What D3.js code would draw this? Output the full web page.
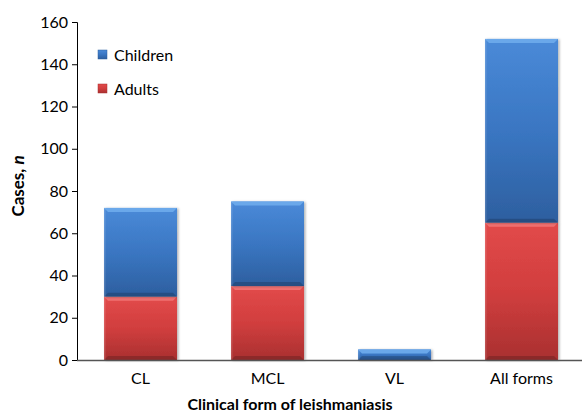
<!DOCTYPE html>
<html>
<head>
<meta charset="utf-8">
<script src="https://cdn.jsdelivr.net/npm/d3@7"></script>
<style>
  body { margin: 0; background: #fff; }
  text { font-family: Lato, "Open Sans", sans-serif; fill: #000; }
</style>
</head>
<body>
<svg id="chart"></svg>
<script>
const categories = ["CL", "MCL", "VL", "All forms"];
const adults = [30, 35, 0, 65];
const children = [42, 40, 5, 87];
const yTicks = [0, 20, 40, 60, 80, 100, 120, 140, 160];

{
    const margin = {top: 22, right: -8, bottom: 54, left: 77},
        width = 582 - margin.left - margin.right,
        height = 414 - margin.top - margin.bottom;

    const svg = d3.select("#chart")
        .attr("width", 582)
        .attr("height", 414);

    const defs = svg.append("defs");
    const grads = {
        blue: ["#4a8ad8", "#3a76c2", "#2d5f9f"],
        red: ["#e24a4a", "#d13e3e", "#a93030"]
    };
    Object.entries(grads).forEach(([k, c]) => {
        const g = defs.append("linearGradient").attr("id", "g-" + k)
            .attr("x1", 0).attr("x2", 0).attr("y1", 0).attr("y2", 1);
        g.append("stop").attr("offset", "0%").attr("stop-color", c[0]);
        g.append("stop").attr("offset", "50%").attr("stop-color", c[1]);
        g.append("stop").attr("offset", "100%").attr("stop-color", c[2]);
    });
    const sh = defs.append("filter").attr("id", "shadow")
        .attr("x", "-20%").attr("y", "-20%").attr("width", "140%").attr("height", "140%");
    sh.append("feDropShadow").attr("dx", 1.5).attr("dy", 0.5).attr("stdDeviation", 1.2)
        .attr("flood-color", "#000").attr("flood-opacity", 0.3);

    const chart = svg.append("g")
        .attr("transform", `translate(${margin.left}, ${margin.top})`);

    const x = d3.scaleBand().domain(categories).range([0, 508]).paddingInner(0.425).paddingOuter(0.2125);
    const y = d3.scaleLinear().domain([0, 160]).range([height, 0]);

    const stack = d3.stack().keys(["adults", "children"])(
        categories.map((c, i) => ({cat: c, adults: adults[i], children: children[i]})));
    const fills = {adults: "red", children: "blue"};
    const tops = {adults: "#f07070", children: "#6aa8ea"};

    stack.forEach(layer => {
        const g = chart.append("g");
        layer.forEach(d => {
            const h = y(d[0]) - y(d[1]);
            if (h <= 0) return;
            const x0 = x(d.data.cat), w = x.bandwidth(), y0 = y(d[1]);
            g.append("rect")
                .attr("x", x0).attr("y", y0).attr("width", w).attr("height", h)
                .attr("fill", `url(#g-${fills[layer.key]})`)
                .attr("filter", "url(#shadow)");
            const b = Math.min(4, h / 2);
            g.append("path")
                .attr("d", `M${x0},${y0}h${w}l-${b},${b}h${-(w - 2 * b)}z`)
                .attr("fill", tops[layer.key]);
            g.append("path")
                .attr("d", `M${x0},${y0 + h}h${w}l-${b},-${b}h${-(w - 2 * b)}z`)
                .attr("fill", "#000").attr("opacity", 0.18);
            g.append("rect")
                .attr("x", x0).attr("y", y0).attr("width", 1.5).attr("height", h)
                .attr("fill", "#fff").attr("opacity", 0.15);
        });
    });

    chart.append("g")
        .call(d3.axisLeft(y).tickValues(yTicks).tickSize(5).tickPadding(4))
        .call(g => g.selectAll("text").style("font-size", "16px"))
        .call(g => g.select(".domain").attr("stroke", "#000"));

    chart.append("g")
        .attr("transform", `translate(0, ${height})`)
        .call(d3.axisBottom(x).tickSize(0).tickPadding(13))
        .call(g => g.selectAll("text").style("font-size", "16px"))
        .call(g => g.select(".domain").attr("stroke", "#555").attr("stroke-width", 1.5).attr("d", `M0,0.5H${width}`));

    chart.append("text")
        .attr("x", 213).attr("y", height + 50)
        .attr("text-anchor", "middle")
        .style("font-size", "16px").style("font-weight", "bold")
        .text("Clinical form of leishmaniasis");

    const yl = svg.append("text")
        .attr("transform", "translate(24, 186) rotate(-90)")
        .attr("text-anchor", "middle")
        .style("font-size", "17px").style("font-weight", "bold");
    yl.append("tspan").text("Cases, ");
    yl.append("tspan").style("font-style", "italic").text("n");

    const legend = [["Children", "blue", 55], ["Adults", "red", 89]];
    legend.forEach(([label, k, ly]) => {
        svg.append("rect").attr("x", 98).attr("y", ly - 5).attr("width", 9).attr("height", 9)
            .attr("fill", `url(#g-${k})`).attr("stroke", k === "blue" ? "#2d5f9f" : "#a93030").attr("stroke-width", 0.5);
        svg.append("text").attr("x", 114).attr("y", ly + 6)
            .style("font-size", "16px").text(label);
    });
}
</script>
</body>
</html>
